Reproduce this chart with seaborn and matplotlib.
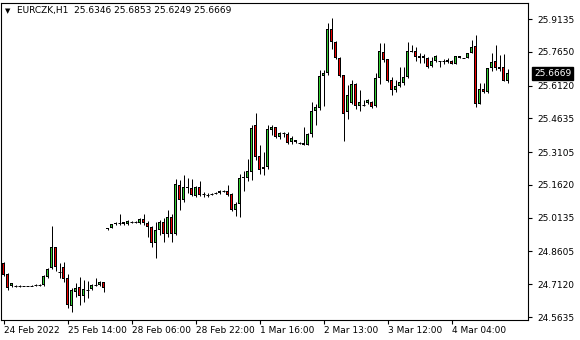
import numpy as np
import pandas as pd
import matplotlib
matplotlib.use("Agg")
import matplotlib.pyplot as plt
import matplotlib.transforms as mtransforms
import seaborn as sns

symbol = "EURCZK,H1"

opens = [24.808, 24.758, 24.704, 24.704, 24.704, 24.704, 24.704, 24.706, 24.708, 24.709,
         24.709, 24.745, 24.786, 24.881, 24.767, 24.790, 24.740, 24.613, 24.677, 24.700,
         24.659, 24.686, 24.690, 24.709, 24.709, 24.722, 24.967, 24.967, 24.985, 24.989,
         24.985, 24.985, 24.994, 24.994, 24.989, 25.008, 24.989, 24.971, 24.899, 24.958,
         24.994, 24.940, 25.017, 24.940, 25.162, 25.094, 25.148, 25.148, 25.112, 25.152,
         25.121, 25.116, 25.121, 25.125, 25.125, 25.134, 25.134, 25.121, 25.048, 25.076,
         25.193, 25.193, 25.220, 25.433, 25.293, 25.234, 25.243, 25.411, 25.424, 25.379,
         25.397, 25.393, 25.356, 25.365, 25.352, 25.352, 25.343, 25.393, 25.497, 25.510,
         25.655, 25.669, 25.868, 25.809, 25.737, 25.660, 25.492, 25.533, 25.619, 25.519,
         25.524, 25.533, 25.538, 25.519, 25.646, 25.764, 25.732, 25.637, 25.592, 25.610,
         25.624, 25.651, 25.764, 25.769, 25.746, 25.746, 25.737, 25.701, 25.723, 25.723,
         25.723, 25.728, 25.723, 25.710, 25.746, 25.737, 25.737, 25.760, 25.791, 25.528,
         25.596, 25.583, 25.692, 25.723, 25.696, 25.696, 25.6346]

highs = [24.813, 24.763, 24.718, 24.709, 24.709, 24.706, 24.706, 24.709, 24.711, 24.711,
         24.754, 24.786, 24.976, 24.881, 24.808, 24.813, 24.758, 24.695, 24.718, 24.745,
         24.731, 24.727, 24.713, 24.740, 24.727, 24.722, 24.967, 24.985, 24.994, 25.030,
         24.994, 25.003, 24.998, 24.998, 25.012, 25.030, 24.998, 24.976, 24.994, 25.003,
         25.012, 25.048, 25.030, 25.189, 25.184, 25.207, 25.193, 25.189, 25.157, 25.180,
         25.130, 25.125, 25.125, 25.130, 25.139, 25.139, 25.162, 25.125, 25.085, 25.211,
         25.225, 25.279, 25.433, 25.488, 25.343, 25.311, 25.433, 25.433, 25.424, 25.402,
         25.402, 25.402, 25.383, 25.365, 25.356, 25.424, 25.397, 25.538, 25.528, 25.683,
         25.683, 25.895, 25.918, 25.814, 25.741, 25.660, 25.615, 25.637, 25.624, 25.592,
         25.547, 25.551, 25.542, 25.669, 25.805, 25.805, 25.732, 25.651, 25.637, 25.696,
         25.696, 25.809, 25.796, 25.787, 25.760, 25.755, 25.741, 25.741, 25.750, 25.723,
         25.732, 25.737, 25.728, 25.746, 25.746, 25.737, 25.760, 25.818, 25.841, 25.624,
         25.624, 25.692, 25.760, 25.796, 25.750, 25.755, 25.6853]

lows = [24.749, 24.686, 24.700, 24.700, 24.700, 24.702, 24.702, 24.704, 24.706, 24.706,
        24.704, 24.740, 24.781, 24.772, 24.740, 24.722, 24.604, 24.586, 24.654, 24.618,
        24.632, 24.650, 24.686, 24.704, 24.704, 24.677, 24.958, 24.967, 24.980, 24.980,
        24.980, 24.980, 24.989, 24.989, 24.985, 24.980, 24.926, 24.881, 24.831, 24.935,
        24.903, 24.926, 24.903, 24.935, 25.048, 25.085, 25.125, 25.112, 25.107, 25.112,
        25.107, 25.107, 25.116, 25.121, 25.121, 25.130, 25.112, 25.044, 25.021, 25.017,
        25.134, 25.180, 25.184, 25.275, 25.211, 25.207, 25.234, 25.388, 25.374, 25.370,
        25.379, 25.347, 25.347, 25.352, 25.347, 25.343, 25.343, 25.379, 25.433, 25.501,
        25.519, 25.660, 25.778, 25.732, 25.651, 25.361, 25.460, 25.528, 25.506, 25.497,
        25.519, 25.528, 25.510, 25.515, 25.619, 25.719, 25.628, 25.569, 25.583, 25.606,
        25.615, 25.646, 25.764, 25.723, 25.714, 25.714, 25.692, 25.696, 25.719, 25.696,
        25.710, 25.714, 25.710, 25.710, 25.737, 25.737, 25.737, 25.760, 25.515, 25.528,
        25.578, 25.578, 25.678, 25.683, 25.678, 25.633, 25.6249]

closes = [24.754, 24.695, 24.718, 24.704, 24.704, 24.704, 24.705, 24.706, 24.709, 24.709,
          24.749, 24.781, 24.881, 24.790, 24.767, 24.736, 24.618, 24.686, 24.695, 24.659,
          24.690, 24.686, 24.709, 24.709, 24.722, 24.695, 24.962, 24.985, 24.989, 24.989,
          24.994, 24.998, 24.994, 24.994, 25.008, 24.989, 24.971, 24.899, 24.958, 24.994,
          24.940, 25.017, 24.940, 25.166, 25.094, 25.152, 25.152, 25.116, 25.152, 25.116,
          25.121, 25.116, 25.121, 25.125, 25.134, 25.134, 25.116, 25.048, 25.076, 25.193,
          25.198, 25.225, 25.420, 25.288, 25.229, 25.243, 25.415, 25.424, 25.379, 25.397,
          25.397, 25.352, 25.374, 25.356, 25.352, 25.343, 25.393, 25.497, 25.515, 25.655,
          25.669, 25.868, 25.809, 25.737, 25.655, 25.483, 25.569, 25.619, 25.519, 25.538,
          25.524, 25.547, 25.515, 25.646, 25.769, 25.728, 25.633, 25.592, 25.610, 25.628,
          25.651, 25.769, 25.769, 25.741, 25.737, 25.737, 25.696, 25.723, 25.746, 25.723,
          25.723, 25.719, 25.710, 25.746, 25.737, 25.737, 25.760, 25.787, 25.528, 25.596,
          25.583, 25.692, 25.719, 25.692, 25.687, 25.633, 25.6669]

xtick_labels = ["24 Feb 2022", "25 Feb 14:00", "28 Feb 06:00", "28 Feb 22:00",
                "1 Mar 16:00", "2 Mar 13:00", "3 Mar 12:00", "4 Mar 04:00"]
xtick_bars = [0, 16, 32, 48, 64, 80, 96, 112]
ytick_values = [25.9135, 25.7650, 25.6120, 25.4635, 25.3105,
                25.1620, 25.0135, 24.8605, 24.7120, 24.5635]

df = pd.DataFrame({"open": opens, "high": highs, "low": lows, "close": closes})
df["bar"] = np.arange(len(df))
df["bottom"] = df[["open", "close"]].min(axis=1)
df["height"] = (df["close"] - df["open"]).abs()
df["doji"] = df["height"] < 0.0012

sns.set_theme(style="white")
plt.rcParams["font.family"] = ["DejaVu Sans"]

W, H = 580, 340
AX_L, AX_R, AX_T, AX_B = 1, 528, 3, 320   # axes box in pixels
fig = plt.figure(figsize=(W / 100, H / 100), dpi=100)
fig.patch.set_facecolor("white")
ax = fig.add_axes([AX_L / W, (H - AX_B) / H, (AX_R - AX_L) / W, (AX_B - AX_T) / H])
ax.set_facecolor("white")

XMIN, XMAX = -0.625, 131.125
YMIN, YMAX = 24.550, 25.986
ax.set_xlim(XMIN, XMAX)
ax.set_ylim(YMIN, YMAX)
px_y = (YMAX - YMIN) / (AX_B - AX_T)      # price units per pixel
px_lw = 72 / 100                          # one pixel in points

GREEN = "#32cd32"
RED = "#ee0000"

# wicks
ax.vlines(df["bar"], df["low"], df["high"], color="black", lw=px_lw, zorder=2)

# bodies: black 3px frame with 1px coloured core (MT4 style)
body = df[~df["doji"]]
ax.bar(body["bar"], body["height"], bottom=body["bottom"], width=0.75,
       color="black", linewidth=0, zorder=3)
inner = body[body["height"] > 2.2 * px_y]
fill = [GREEN if c > o else RED for o, c in zip(inner["open"], inner["close"])]
ax.bar(inner["bar"], inner["height"] - 2 * px_y, bottom=inner["bottom"] + px_y,
       width=0.25, color=fill, linewidth=0, zorder=4)

# doji dashes
dj = df[df["doji"]]
ax.hlines(dj["close"], dj["bar"] - 0.375, dj["bar"] + 0.375, color="black",
          lw=px_lw, zorder=3)

ax.yaxis.tick_right()
ax.set_yticks(ytick_values)
ax.set_yticklabels([f"{v:.4f}" for v in ytick_values])
ax.set_xticks(xtick_bars)
ax.set_xticklabels(xtick_labels)
for lab in ax.get_xticklabels():
    lab.set_horizontalalignment("left")
ax.tick_params(axis="y", direction="out", length=3, width=0.8, color="black",
               labelsize=6.5, pad=4, labelcolor="black", right=True, left=False)
ax.tick_params(axis="x", direction="out", length=3, width=0.8, color="black",
               labelsize=6.5, pad=1.5, labelcolor="black", bottom=True)

for s in ax.spines.values():
    s.set_visible(True)
    s.set_color("black")
    s.set_linewidth(0.8)
ax.grid(False)

# current price tag
last = df.iloc[-1]
trans = mtransforms.blended_transform_factory(ax.transAxes, ax.transData)
ax.text(1.0 + 6 / (AX_R - AX_L), last["close"], f"{last['close']:.4f}", transform=trans,
        ha="left", va="center", fontsize=6.5, color="white", zorder=10,
        bbox=dict(boxstyle="square,pad=0.2", facecolor="black", edgecolor="black"),
        clip_on=False)

# header
fig.text(5 / W, 1 - 11 / H, "\u25bc", fontsize=5, color="black", va="center", ha="left")
fig.text(17 / W, 1 - 11 / H,
         f"{symbol}  {last['open']:.4f} {last['high']:.4f} {last['low']:.4f} {last['close']:.4f}",
         fontsize=6.5, color="black", va="center", ha="left")

fig.savefig("out.png", dpi=100, facecolor="white")
